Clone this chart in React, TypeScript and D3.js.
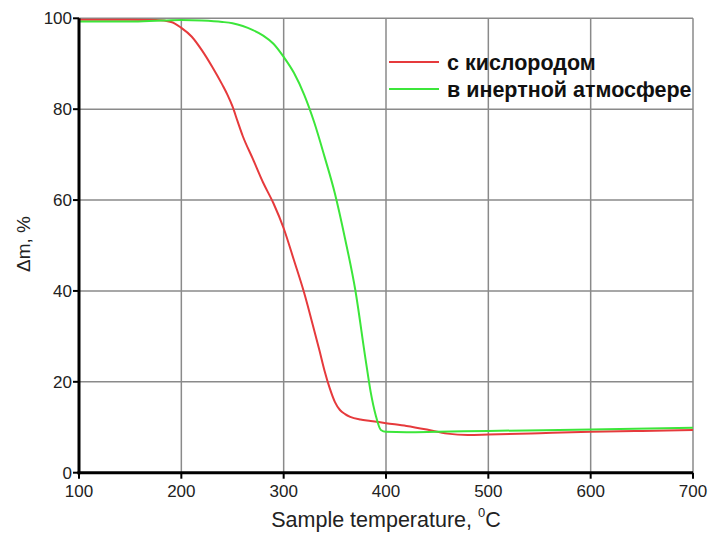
import React from "react";
import * as d3 from "d3";

const xTicks = [100, 200, 300, 400, 500, 600, 700];
const yTicks = [0, 20, 40, 60, 80, 100];

const oxygenT = [100, 150, 175, 190, 200, 210, 220, 230, 240, 245, 250, 255, 260, 270, 280, 290, 300, 310, 320, 325, 330, 335, 340, 345, 350, 355, 360, 365, 375, 385, 400, 420, 440, 460, 480, 500, 550, 600, 650, 700];
const oxygenM = [99.7, 99.7, 99.6, 99.2, 97.9, 96.0, 93.0, 89.4, 85.4, 83.2, 80.6, 77.3, 74.1, 69.0, 63.8, 59.3, 53.8, 46.8, 39.6, 35.5, 31.2, 26.9, 22.4, 18.6, 15.6, 13.8, 12.9, 12.3, 11.7, 11.4, 10.9, 10.3, 9.5, 8.6, 8.3, 8.4, 8.7, 9.0, 9.2, 9.4];

const inertT = [100, 150, 180, 200, 220, 240, 250, 260, 270, 280, 290, 300, 310, 320, 330, 340, 350, 360, 370, 380, 385, 390, 395, 400, 420, 450, 500, 600, 700];
const inertM = [99.3, 99.3, 99.5, 99.6, 99.5, 99.2, 98.9, 98.3, 97.4, 96.2, 94.4, 91.5, 88.0, 83.2, 77.0, 69.5, 61.5, 51.5, 40.2, 25.0, 17.8, 12.6, 9.4, 9.0, 8.9, 9.0, 9.2, 9.5, 9.9];

const seriesNames = ["с кислородом", "в инертной атмосфере"];
const seriesColors = ["#e63a3c", "#3ce63a"];

export default function App() {
  const W = 708, H = 535;
  const x = d3.scaleLinear().domain([100, 700]).range([79, 693]);
  const y = d3.scaleLinear().domain([0, 100]).range([472.7, 18.3]);
  const line = d3
    .line<[number, number]>()
    .x((d) => x(d[0]))
    .y((d) => y(d[1]))
    .curve(d3.curveMonotoneX);
  const red = oxygenT.map((t, i) => [t, oxygenM[i]] as [number, number]);
  const green = inertT.map((t, i) => [t, inertM[i]] as [number, number]);
  const font = "Liberation Sans, Arial, sans-serif";
  const gridColor = "#8a8a8a";
  const textColor = "#222";
  return (
    <svg width={W} height={H} style={{ position: "absolute", left: 0, top: 0, background: "#fff" }} fontFamily={font}>
      {/* grid */}
      {xTicks.map((t) => (
        <line key={"gx" + t} x1={x(t)} x2={x(t)} y1={y(0)} y2={y(100)} stroke={gridColor} strokeWidth={1.5} />
      ))}
      {yTicks.map((t) => (
        <line key={"gy" + t} x1={x(100)} x2={x(700)} y1={y(t)} y2={y(t)} stroke={gridColor} strokeWidth={1.5} />
      ))}
      {/* curves */}
      <path d={line(red) || ""} fill="none" stroke={seriesColors[0]} strokeWidth={2} />
      <path d={line(green) || ""} fill="none" stroke={seriesColors[1]} strokeWidth={2} />
      {/* axes */}
      <line x1={x(100)} x2={x(100)} y1={y(0) + 1.5} y2={y(100)} stroke="#000" strokeWidth={3} />
      <line x1={x(100) - 1.5} x2={x(700)} y1={y(0)} y2={y(0)} stroke="#000" strokeWidth={3} />
      {yTicks.map((t) => (
        <g key={"ty" + t}>
          <line x1={x(100) - 6} x2={x(100)} y1={y(t)} y2={y(t)} stroke="#000" strokeWidth={2} />
          <text x={x(100) - 7} y={y(t)} dy="0.35em" textAnchor="end" fontSize={17} fill={textColor}>
            {t}
          </text>
        </g>
      ))}
      {xTicks.map((t) => (
        <g key={"tx" + t}>
          <line x1={x(t)} x2={x(t)} y1={y(0)} y2={y(0) + 6} stroke="#000" strokeWidth={2} />
          <text x={x(t)} y={y(0) + 24} textAnchor="middle" fontSize={17} fill={textColor}>
            {t}
          </text>
        </g>
      ))}
      {/* axis titles */}
      <text x={386} y={527} textAnchor="middle" fontSize={21.5} fill={textColor}>
        Sample temperature,{" "}
        <tspan fontSize={13} dy={-10}>0</tspan>
        <tspan dy={10}>C</tspan>
      </text>
      <text transform="translate(30,244) rotate(-90)" textAnchor="middle" fontSize={19} fill={textColor}>
        Δm, %
      </text>
      {/* legend */}
      {seriesNames.map((n, i) => (
        <g key={n}>
          <line x1={389} x2={439} y1={62 + i * 27} y2={62 + i * 27} stroke={seriesColors[i]} strokeWidth={2} />
          <text x={447} y={62 + i * 27} dy="0.35em" fontSize={21.5} fontWeight="bold" fill="#111">
            {n}
          </text>
        </g>
      ))}
    </svg>
  );
}
